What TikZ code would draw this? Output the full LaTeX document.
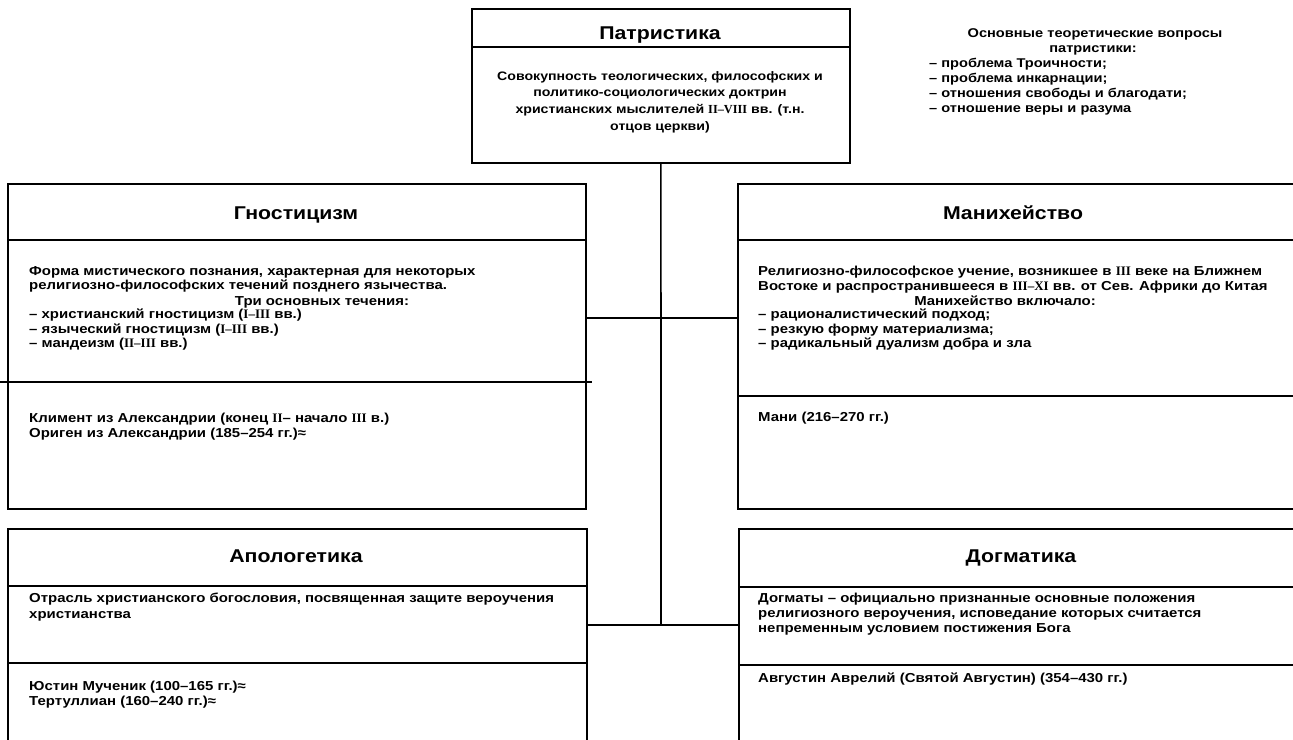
\documentclass[tikz,border=0pt]{standalone}
\usepackage{fontspec}
\newfontfamily\bodyf[FakeStretch=1.15]{Liberation Sans}
\newfontfamily\romf{Liberation Serif}
\newcommand{\rn}[1]{{\romf\bfseries #1}}
\begin{document}
\begin{tikzpicture}[x=1pt,y=-1pt,
  boxframe/.style={draw,line width=1.7pt,rectangle,inner sep=0pt,anchor=north west},
  ln/.style={line width=1.7pt},
  ttl/.style={font=\bodyf\bfseries\fontsize{18.5}{20}\selectfont,inner sep=0pt,anchor=base},
  txt/.style={font=\bodyf\bfseries\fontsize{13}{14.5}\selectfont,inner sep=0pt,align=left,anchor=north west},
  txtc/.style={font=\bodyf\bfseries\fontsize{12.3}{16.7}\selectfont,inner sep=0pt,align=center,anchor=north},
  one/.style={font=\bodyf\bfseries\fontsize{13}{14.5}\selectfont,inner sep=0pt,anchor=base},
  ann/.style={font=\bodyf\bfseries\fontsize{12.7}{15.3}\selectfont,inner sep=0pt}
]
\useasboundingbox (0,0) rectangle (1293,739);
\clip (0,0) rectangle (1293,739);
\fill[white] (0,0) rectangle (1293,739);

% boxes
\node[boxframe,minimum width=378pt,minimum height=154pt] (patr) at (471,8) {};
\node[boxframe,minimum width=578pt,minimum height=325pt] (gno) at (7,183) {};
\node[boxframe,minimum width=578pt,minimum height=325pt] (man) at (737,183) {};
\node[boxframe,minimum width=579pt,minimum height=260pt] (apo) at (7,528) {};
\node[boxframe,minimum width=578pt,minimum height=260pt] (dog) at (738,528) {};

% dividers
\draw[ln] (471,47) -- (849,47);
\draw[ln] (7,240) -- (585,240);
\draw[ln] (0,382) -- (592,382);
\draw[ln] (737,240) -- (1315,240);
\draw[ln] (737,396) -- (1315,396);
\draw[ln] (7,586) -- (586,586);
\draw[ln] (7,663) -- (586,663);
\draw[ln] (738,587) -- (1316,587);
\draw[ln] (738,665) -- (1316,665);

% connectors
\coordinate (jt) at (661,318);
\coordinate (jb) at (661,625);
\draw[ln] (patr.south) -- (jb);
\draw[ln] (gno.east |- jt) -- (man.west |- jt);
\draw[ln] (apo.east |- jb) -- (dog.west |- jb);

% Patristika
\node[ttl] (patrT) at (660,39) {Патристика};
\node[txtc] (patrB) at (660,71) {Совокупность теологических, философских и\\политико-социологических доктрин\\христианских мыслителей \rn{II–VIII} вв. (т.н.\\отцов церкви)};

% annotation
\node[ann,anchor=base] (annH1) at (1095,37) {Основные теоретические вопросы};
\node[ann,anchor=base] (annH2) at (1093,52) {патристики:};
\node[ann,align=left,anchor=north west] (annL) at (929,57.5) {– проблема Троичности;\\– проблема инкарнации;\\– отношения свободы и благодати;\\– отношение веры и разума};

% Gnosticism
\node[ttl] (gnoT) at (296,219) {Гностицизм};
\node[txt] (gnoA) at (29,266) {Форма мистического познания, характерная для некоторых\\религиозно-философских течений позднего язычества.};
\node[one] (gnoC) at (322,305.5) {Три основных течения:};
\node[txt] (gnoL) at (29,309) {– христианский гностицизм (\rn{I–III} вв.)\\– языческий гностицизм (\rn{I–III} вв.)\\– мандеизм (\rn{II–III} вв.)};
\node[txt] (gnoN) at (29,413) {Климент из Александрии (конец \rn{II}– начало \rn{III} в.)\\Ориген из Александрии (185–254 гг.)≈};

% Manichaeism
\node[ttl] (manT) at (1013,219) {Манихейство};
\node[txt] (manA) at (758,266) {Религиозно-философское учение, возникшее в \rn{III} веке на Ближнем\\Востоке и распространившееся в \rn{III–XI} вв. от Сев. Африки до Китая};
\node[one] (manC) at (1005,305.5) {Манихейство включало:};
\node[txt] (manL) at (758,309) {– рационалистический подход;\\– резкую форму материализма;\\– радикальный дуализм добра и зла};
\node[txt] (manN) at (758,412) {Мани (216–270 гг.)};

% Apologetics
\node[ttl] (apoT) at (296,562) {Апологетика};
\node[txt,font=\bodyf\bfseries\fontsize{13}{16}\selectfont] (apoA) at (29,593) {Отрасль христианского богословия, посвященная защите вероучения\\христианства};
\node[txt] (apoN) at (29,681) {Юстин Мученик (100–165 гг.)≈\\Тертуллиан (160–240 гг.)≈};

% Dogmatika
\node[ttl] (dogT) at (1021,562) {Догматика};
\node[txt,font=\bodyf\bfseries\fontsize{13}{15}\selectfont] (dogA) at (758,593) {Догматы – официально признанные основные положения\\религиозного вероучения, исповедание которых считается\\непременным условием постижения Бога};
\node[txt] (dogN) at (758,673) {Августин Аврелий (Святой Августин) (354–430 гг.)};
\end{tikzpicture}
\end{document}
